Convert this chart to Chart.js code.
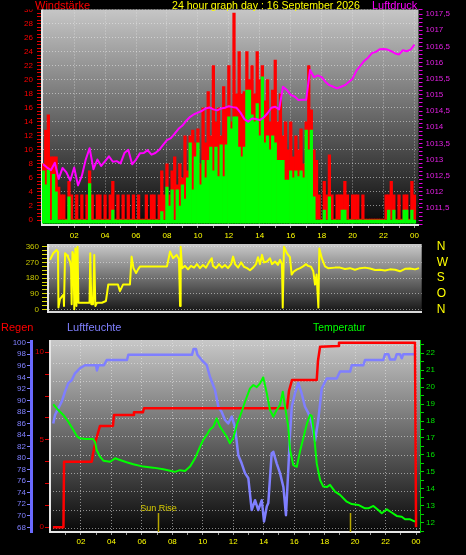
<!DOCTYPE html>
<html><head><meta charset="utf-8">
<script src="https://cdn.jsdelivr.net/npm/chart.js@4"></script>
<style>
html,body{margin:0;padding:0;background:#000;width:466px;height:555px;overflow:hidden;}
canvas{position:absolute;left:0;}
.t{position:absolute;font-family:"Liberation Sans",Arial,sans-serif;font-size:11px;line-height:11px;white-space:nowrap;}
</style></head><body>
<canvas id="c1" width="466" height="244" style="top:0px"></canvas>
<canvas id="c2" width="466" height="84" style="top:236px"></canvas>
<canvas id="c3" width="466" height="235" style="top:320px"></canvas>
<div class="t" style="left:35px;top:0px;color:#ff0000">Windstärke</div>
<div class="t" style="left:172px;top:0px;color:#ffff00;font-size:10.6px">24 hour graph day : 16 September 2026</div>
<div class="t" style="left:372px;top:0px;color:#ff00ff">Luftdruck</div>
<div class="t" style="left:1px;top:322px;color:#ff0000">Regen</div>
<div class="t" style="left:67px;top:322px;color:#8080ff">Luftfeuchte</div>
<div class="t" style="left:313px;top:322px;color:#00ff00;font-size:10.4px">Temperatur</div>
<script>
// ===== top panel: wind (10-minute values) and pressure (15-minute values)
const WIND_STEP_H = 1 / 6;
const windGust = [
  8, 12.8, 15, 9, 9, 9, 4.7, 3.6, 3.6, 0,
  5.5, 3.6, 0, 3.6, 0, 3.6, 0, 3.6, 7, 3.6,
  0, 3.6, 3.6, 0, 3.6, 0, 3.6, 5.5, 0, 3.6,
  0, 3.6, 0, 3.6, 0, 3.6, 0, 3.6, 0, 0,
  3.6, 0, 3.6, 3.6, 0, 3.6, 7, 3.6, 8, 3.6,
  7, 9, 5, 8, 6, 12, 7, 12, 12.8, 11,
  13, 8, 16, 11, 18.3, 12, 22, 14, 16, 12,
  19, 16, 22, 14, 29.5, 18, 24, 18, 18.3, 24,
  20, 22, 18, 24, 20, 22, 17, 20, 14, 18.5,
  22.8, 14, 18, 12, 14, 10, 14, 9, 12, 10,
  13, 8, 14, 22, 15.7, 10, 8.5, 3.6, 0, 5.5,
  3.6, 9.3, 3.6, 0, 3.6, 3.6, 3.6, 5.5, 3.6, 0,
  3.6, 3.6, 3.6, 0, 3.6, 0, 0, 0, 0, 0,
  0, 0, 0, 3.6, 3.6, 5.5, 3.6, 0, 3.6, 0,
  3.6, 3.6, 0, 5.5, 3.6
];
const windAvg = [
  7, 5, 7.1, 0, 6.5, 4, 0, 0, 0, 0,
  3.3, 0, 0, 0, 0, 0, 0, 0, 5.2, 0,
  0, 0, 0, 0, 0, 0, 0, 1.4, 0, 0,
  0, 0, 0, 0, 0, 0, 0, 0, 0, 0,
  0, 0, 0, 0, 0, 0, 1.2, 0, 4.7, 2,
  4.3, 0, 4.3, 2, 5, 3, 6, 11, 4.3, 9,
  11, 5, 8.5, 6, 8.5, 10.4, 7, 10.4, 6.2, 10.7,
  6.2, 10.7, 14.7, 13, 14.7, 14.7, 10.4, 9, 10.4, 18.5,
  18.5, 15, 14, 16.6, 12, 20.4, 11, 12, 10, 12,
  11, 8.5, 8.5, 8.5, 5.7, 5.7, 7, 6, 7, 6.2,
  7, 6, 12.8, 10, 12.8, 3.3, 0, 0, 0, 1.4,
  0, 3.3, 0, 0, 0, 0, 1.4, 1.4, 0, 0,
  0, 0, 0, 0, 0, 0, 0, 0, 0, 0,
  0, 0, 0, 0, 1.4, 0, 1.4, 0, 0, 0,
  1.4, 1.4, 0, 1.4, 0
];
const PRESS_STEP_H = 0.25;
const pressure = [
  1012.85, 1012.75, 1012.67, 1012.9, 1012.4, 1012.74, 1012.6, 1012.35, 1012.75, 1012.2,
  1012.5, 1013.0, 1013.35, 1012.7, 1013.0, 1012.8, 1012.95, 1013.1, 1012.93, 1012.95,
  1012.88, 1013.2, 1013.3, 1012.85, 1013.0, 1013.19, 1013.2, 1013.29, 1013.15, 1013.2,
  1013.3, 1013.45, 1013.6, 1013.66, 1013.8, 1013.95, 1014.05, 1014.2, 1014.32, 1014.4,
  1014.45, 1014.5, 1014.58, 1014.61, 1014.55, 1014.52, 1014.58, 1014.6, 1014.65, 1014.62,
  1014.6, 1014.45, 1014.25, 1014.17, 1014.27, 1014.25, 1014.22, 1014.3, 1014.43, 1014.6,
  1014.63, 1014.55, 1015.25, 1015.15, 1015.0, 1014.95, 1014.84, 1014.85, 1014.85, 1015.77,
  1015.55, 1015.6, 1015.55, 1015.4, 1015.3, 1015.25, 1015.2, 1015.25, 1015.3, 1015.4,
  1015.5, 1015.75, 1015.9, 1016.05, 1016.15, 1016.29, 1016.33, 1016.41, 1016.42, 1016.4,
  1016.35, 1016.28, 1016.25, 1016.38, 1016.35, 1016.4, 1016.55
];
const windTicks = [0, 2, 4, 6, 8, 10, 12, 14, 16, 18, 20, 22, 24, 26, 28, 30];
const pressTicks = [1011.5, 1012, 1012.5, 1013, 1013.5, 1014, 1014.5, 1015, 1015.5, 1016, 1016.5, 1017, 1017.5];
const pressLabels = ['1011,5', '1012', '1012,5', '1013', '1013,5', '1014', '1014,5', '1015', '1015,5', '1016', '1016,5', '1017', '1017,5'];
const hourTicks = [2, 4, 6, 8, 10, 12, 14, 16, 18, 20, 22, 24];
const hourLabels = ['02', '04', '06', '08', '10', '12', '14', '16', '18', '20', '22', '00'];

// ===== middle panel: wind direction
const dirHours = [0.00,0.21,0.43,0.52,0.55,0.65,0.78,0.88,0.91,0.98,
  1.11,1.17,1.30,1.37,1.41,1.46,1.53,1.58,1.65,1.72,
  1.79,1.85,1.95,2.47,2.57,2.62,2.69,2.80,2.88,2.95,
  3.06,3.38,3.64,3.79,4.23,4.42,4.55,4.75,5.20,5.31,
  5.43,5.60,5.73,5.86,7.61,7.81,8.00,8.24,8.39,8.46,
  8.50,8.59,8.78,8.98,9.17,9.37,9.56,9.76,9.95,10.15,
  10.34,10.52,10.60,10.80,10.99,11.19,11.38,11.58,11.78,11.91,
  12.04,12.24,12.43,12.62,12.82,13.01,13.21,13.40,13.53,13.66,
  13.79,13.92,14.12,14.31,14.44,14.64,14.83,14.96,15.09,15.14,
  15.22,15.42,15.61,15.72,15.87,16.07,16.27,16.46,16.66,16.79,
  16.98,17.13,17.24,17.34,17.46,17.52,17.68,17.89,18.09,18.54,
  18.87,19.19,19.52,19.84,20.17,20.49,20.82,21.15,21.47,21.80,
  22.12,22.45,22.77,23.10,23.42,23.75,24.01];
const dirDegrees = [285,322,341,330,11,60,75,86,20,322,
  310,300,275,240,30,330,310,2,350,20,
  360,39,39,39,39,322,30,30,313,20,
  39,39,49,143,143,143,105,143,143,303,
  237,209,230,247,247,332,294,313,290,20,
  360,237,250,230,250,240,260,237,255,240,
  270,294,250,237,260,240,255,237,260,303,
  260,240,270,245,237,225,240,260,300,260,
  313,270,275,294,260,275,256,285,260,11,
  360,322,300,200,219,230,237,247,260,250,
  245,219,143,200,11,350,294,247,237,240,
  240,232,237,228,237,240,235,226,228,224,
  230,228,219,233,235,230,237];
const dirTicks = [0, 90, 180, 270, 360];
const compassLabels = ['N', 'O', 'S', 'W', 'N'];

// ===== bottom panel: rain, humidity, temperature
const rainHours = [0.16,0.85,0.89,2.71,2.79,2.99,3.25,4.10,4.17,5.42,5.48,6.07,6.14,15.53,15.66,15.86,17.48,17.56,17.70,18.88,18.94,23.93,24.0];
const rainMm = [0,0,3.75,3.75,4.2,5.0,5.79,5.79,6.42,6.42,6.57,6.57,6.8,6.8,7.8,8.42,8.42,9.5,10.32,10.36,10.55,10.55,0];
const humHours = [0.18,0.30,0.51,0.74,0.95,1.17,1.39,1.61,1.94,2.27,
  2.99,3.05,3.15,3.51,3.69,5.02,5.11,9.29,9.39,9.55,
  9.65,9.93,10.26,10.47,10.80,11.02,11.24,11.46,11.67,11.90,
  12.11,12.33,12.55,12.77,12.99,13.21,13.43,13.64,13.87,14.02,
  14.20,14.30,14.52,14.63,14.85,15.07,15.29,15.46,15.61,15.73,
  15.84,16.05,16.27,16.49,16.71,16.93,17.15,17.37,17.58,17.81,
  18.14,18.79,19.01,19.67,19.78,20.54,20.65,21.85,21.96,22.18,
  22.29,22.62,22.73,22.95,23.06,23.16,23.93];
const humPct = [86.0,87.5,88.6,89.8,91.5,93.0,93.5,94.7,95.6,96.1,
  96.1,95.2,96.1,96.1,97.0,97.0,97.9,97.9,98.9,98.9,
  97.9,97.0,96.1,94.1,91.8,88.9,88.0,86.6,86.0,87.2,
  85.4,80.5,79.1,77.4,76.5,71.0,72.7,71.0,72.7,69.0,
  71.6,72.2,80.8,81.1,79.1,77.4,75.0,70.1,77.9,84.3,
  88.9,91.2,93.0,91.2,88.9,87.8,86.0,83.0,86.6,92.1,
  93.8,93.8,95.0,95.0,96.1,96.1,97.0,97.0,98.0,98.0,
  97.1,97.1,98.0,98.0,97.3,98.0,98.0];
const tempHours = [0.18,0.51,0.84,1.17,1.50,1.74,1.94,2.27,2.79,2.92,
  3.03,3.25,3.47,3.91,4.24,4.56,5.00,5.44,6.09,6.75,
  7.41,7.85,8.17,8.50,8.83,9.16,9.49,9.82,10.03,10.26,
  10.47,10.69,10.91,11.13,11.35,11.57,11.78,12.00,12.23,12.55,
  12.77,13.10,13.32,13.54,13.76,13.97,14.20,14.41,14.63,14.85,
  15.07,15.25,15.40,15.61,15.73,15.94,16.17,16.38,16.60,16.82,
  17.04,17.15,17.26,17.48,17.70,17.91,18.14,18.35,18.68,19.01,
  19.45,19.78,20.21,20.65,20.87,21.20,21.52,21.75,22.08,22.40,
  22.73,23.06,23.28,23.61,23.93];
const tempC = [18.99,18.65,18.36,17.96,17.47,17.1,16.98,16.94,16.94,16.78,
  16.29,15.9,15.66,15.6,15.8,15.7,15.57,15.45,15.31,15.25,
  15.15,15.07,15.0,15.1,15.05,15.31,15.8,16.49,16.88,17.18,
  17.5,17.67,18.16,17.67,17.37,17.08,16.69,17.0,17.77,18.55,
  19.14,19.93,20.13,20.0,20.23,20.58,19.64,18.65,18.26,18.65,
  18.95,19.73,18.85,17.67,16.29,15.4,15.3,16.2,17.0,17.8,
  18.36,18.3,17.6,15.5,14.52,14.13,14.1,14.23,13.83,13.64,
  13.24,13.1,13.05,12.85,12.85,12.99,12.75,12.56,12.79,12.6,
  12.4,12.35,12.2,12.2,12.06];
const humTicks = [68,70,72,74,76,78,80,82,84,86,88,90,92,94,96,98,100];
const rainTicks = [0, 5, 10];
const tempTicks = [12,13,14,15,16,17,18,19,20,21,22];
const sunHours = [7.04, 19.67];
const sunLabels = ['Sun Rise', ''];

// ===== helpers
const FONT = '"Liberation Sans", Arial, sans-serif';
const GRID = 'rgba(235,235,235,0.55)';
Chart.defaults.font.family = FONT;
Chart.defaults.animation = false;

function range(a, b, step) { const out = []; for (let k = 0; a + k * step <= b + 1e-9; k++) out.push(Math.round((a + k * step) * 1000) / 1000); return out; }
const near = (a, b) => Math.abs(a - b) < 1e-6;
const isIn = vals => v => vals.some(x => near(x, v));
function fixTicks(vals) { return s => { s.ticks = vals.map(v => ({ value: v })); }; }
function labelFrom(vals, labels) { return v => { const i = vals.findIndex(x => near(x, v)); return i >= 0 ? labels[i] : ''; }; }
const fixWidth = w => s => { s.width = w; };
const fixHeight = h => s => { s.height = h; };
const majorGrid = vals => c => (c.tick && isIn(vals)(c.tick.value)) ? GRID : 'transparent';
const tickFont = { size: 8, family: FONT };
const pts = (xs, ys) => ys.map((v, i) => ({ x: xs[i], y: v }));
const stepPts = (step, ys) => ys.map((v, i) => ({ x: i * step, y: v }));

// plot background gradient + clip of the left axis labels above the plot top
const panelPlugin = {
  id: 'panel',
  beforeDraw(chart, args, opts) {
    const { ctx, chartArea: a } = chart;
    const g = ctx.createLinearGradient(0, a.top, 0, a.bottom);
    g.addColorStop(0, opts.top); g.addColorStop(1, opts.bottom);
    ctx.save(); ctx.fillStyle = g; ctx.fillRect(a.left, a.top, a.right - a.left, a.bottom - a.top); ctx.restore();
    ctx.save(); ctx.beginPath();
    ctx.rect(0, a.top, a.right, chart.height - a.top);
    ctx.rect(a.right, 0, chart.width - a.right, chart.height);
    ctx.clip();
  },
  afterDraw(chart) { chart.ctx.restore(); }
};
const sunPlugin = {
  id: 'sun',
  afterDatasetsDraw(chart) {
    const { ctx, chartArea: a, scales } = chart;
    ctx.save();
    sunHours.forEach((h, i) => {
      const px = Math.round(scales.x.getPixelForValue(h)) + 0.5;
      ctx.strokeStyle = '#b8a800'; ctx.lineWidth = 1.5;
      ctx.beginPath(); ctx.moveTo(px, a.bottom - 19); ctx.lineTo(px, a.bottom); ctx.stroke();
      if (sunLabels[i]) {
        ctx.fillStyle = '#d8cc00'; ctx.font = '9px ' + FONT; ctx.textAlign = 'center'; ctx.textBaseline = 'alphabetic';
        ctx.fillText(sunLabels[i], px, a.bottom - 21);
      }
    });
    ctx.restore();
  }
};
const baseOpts = { responsive: false, devicePixelRatio: 1, animation: false, events: [] };
const noPlug = { legend: { display: false }, tooltip: { enabled: false } };
function hourAxis(min, max, h, pad) {
  return {
    type: 'linear', min, max, offset: false,
    afterBuildTicks: fixTicks(range(1, 24, 1)), afterFit: fixHeight(h),
    ticks: { callback: labelFrom(hourTicks, hourLabels), color: '#ffff00', font: tickFont, padding: pad, autoSkip: false, maxRotation: 0 },
    grid: { offset: false, color: majorGrid(hourTicks), tickColor: '#9a9a9a', tickLength: 3, lineWidth: 1 },
    border: { color: '#e6e6e6', width: 2, dash: [1, 2] }
  };
}

// ===== top chart
new Chart(document.getElementById('c1'), {
  type: 'bar',
  data: { datasets: [
    { type: 'bar', label: 'Böen', data: stepPts(WIND_STEP_H, windGust), backgroundColor: '#ff0000', barThickness: 2.6, minBarLength: 2, grouped: false, order: 3, yAxisID: 'yW' },
    { type: 'bar', label: 'Wind', data: stepPts(WIND_STEP_H, windAvg), backgroundColor: '#00ff00', barThickness: 2.6, base: -0.45, grouped: false, order: 2, yAxisID: 'yW' },
    { type: 'line', label: 'Luftdruck', data: stepPts(PRESS_STEP_H, pressure), borderColor: '#ff00ff', borderWidth: 2, pointRadius: 0, borderJoinStyle: 'round', order: 1, yAxisID: 'yP' }
  ] },
  options: { ...baseOpts,
    layout: { padding: { top: 9.5 } },
    plugins: { ...noPlug, panel: { top: '#c6c6c6', bottom: '#080808' } },
    scales: {
      x: hourAxis(-0.078, 24.26, 19, 3),
      yW: { type: 'linear', position: 'left', min: -0.71, max: 30,
        afterBuildTicks: fixTicks(range(0, 30, 0.5)), afterFit: fixWidth(42),
        ticks: { callback: labelFrom(windTicks, windTicks.map(String)), color: '#ff0000', font: tickFont, padding: 4, autoSkip: false },
        grid: { color: majorGrid(windTicks), tickColor: '#e00000', tickLength: 5 },
        border: { color: '#e6e6e6', width: 2, dash: [1, 2] } },
      yP: { type: 'linear', position: 'right', min: 1010.974, max: 1017.64,
        afterBuildTicks: fixTicks(range(1011, 1017.625, 0.125)), afterFit: fixWidth(47.5),
        ticks: { callback: labelFrom(pressTicks, pressLabels), color: '#e020e0', font: tickFont, padding: 3, autoSkip: false },
        grid: { drawOnChartArea: false, tickColor: '#e000e0', tickLength: 4 },
        border: { display: false } }
    } },
  plugins: [panelPlugin]
});

// ===== middle chart
new Chart(document.getElementById('c2'), {
  type: 'line',
  data: { datasets: [
    { label: 'Windrichtung', data: pts(dirHours, dirDegrees), borderColor: '#ffff00', borderWidth: 2, pointRadius: 0, borderJoinStyle: 'round', yAxisID: 'yD' }
  ] },
  options: { ...baseOpts,
    layout: { padding: { top: 8 } },
    plugins: { ...noPlug, panel: { top: '#cacaca', bottom: '#151515' } },
    scales: {
      x: { type: 'linear', min: -0.13, max: 24.18, afterFit: fixHeight(7), ticks: { display: false }, grid: { display: false }, border: { color: '#d8d8d8', width: 2 } },
      yD: { type: 'linear', position: 'left', min: -15.3, max: 375.3,
        afterBuildTicks: fixTicks(range(0, 360, 22.5)), afterFit: fixWidth(48),
        ticks: { callback: labelFrom(dirTicks, dirTicks.map(String)), color: '#c8c800', font: tickFont, padding: 3, autoSkip: false },
        grid: { color: majorGrid(dirTicks), tickColor: '#d8d800', tickLength: 6 },
        border: { color: '#e6e6e6', width: 2, dash: [1, 2] } },
      yC: { type: 'linear', position: 'right', min: -15.3, max: 375.3,
        afterBuildTicks: fixTicks(dirTicks), afterFit: fixWidth(44.3),
        ticks: { callback: labelFrom(dirTicks, compassLabels), color: '#ffff00', font: { size: 12, family: FONT }, padding: 0, autoSkip: false },
        grid: { drawOnChartArea: false, drawTicks: true, tickLength: 15, tickColor: 'rgba(0,0,0,0)' },
        border: { display: false } }
    } },
  plugins: [panelPlugin]
});

// ===== bottom chart
new Chart(document.getElementById('c3'), {
  type: 'line',
  data: { datasets: [
    { label: 'Luftfeuchte', data: pts(humHours, humPct), borderColor: '#7f7fff', borderWidth: 2.5, pointRadius: 0, borderJoinStyle: 'round', yAxisID: 'yH', order: 3 },
    { label: 'Regen', data: pts(rainHours, rainMm), borderColor: '#ff0000', borderWidth: 2.5, pointRadius: 0, borderJoinStyle: 'round', yAxisID: 'yR', order: 2 },
    { label: 'Temperatur', data: pts(tempHours, tempC), borderColor: '#00ff00', borderWidth: 2, pointRadius: 0, borderJoinStyle: 'round', yAxisID: 'yT', order: 1 }
  ] },
  options: { ...baseOpts,
    layout: { padding: { top: 20 } },
    plugins: { ...noPlug, panel: { top: '#c8c8c8', bottom: '#080808' } },
    scales: {
      x: hourAxis(-0.033, 24.26, 23, 2),
      yH: { type: 'linear', position: 'left', weight: 2, min: 67.19, max: 100.47,
        afterBuildTicks: fixTicks(humTicks), afterFit: fixWidth(31),
        ticks: { color: '#8080ff', font: tickFont, padding: 1, autoSkip: false },
        grid: { drawOnChartArea: false, tickColor: '#8080ff', tickLength: 4 },
        border: { color: '#6a6aff', width: 3 } },
      yR: { type: 'linear', position: 'left', weight: 1, min: -0.27, max: 10.70,
        afterBuildTicks: fixTicks(range(0, 10, 1.25)), afterFit: fixWidth(19),
        ticks: { callback: labelFrom(rainTicks, rainTicks.map(String)), color: '#e00000', font: tickFont, padding: 1, autoSkip: false },
        grid: { drawOnChartArea: false, tickColor: '#e00000', tickLength: 5 },
        border: { color: '#e6e6e6', width: 2 } },
      yT: { type: 'linear', position: 'right', weight: 1, min: 11.45, max: 22.785,
        afterBuildTicks: fixTicks(range(11.5, 22.5, 0.5)), afterFit: fixWidth(46),
        ticks: { callback: labelFrom(tempTicks, tempTicks.map(String)), color: '#00e000', font: tickFont, padding: 2, autoSkip: false },
        grid: { drawOnChartArea: false, tickColor: '#00d000', tickLength: 4 },
        border: { color: '#00c000', width: 1 } },
      yG: { type: 'linear', position: 'right', weight: 0, min: -0.2, max: 10.28,
        afterBuildTicks: fixTicks(range(0, 10, 1)), afterFit: fixWidth(0),
        ticks: { display: false },
        grid: { color: GRID, drawTicks: false },
        border: { display: false, dash: [1, 2] } }
    } },
  plugins: [panelPlugin, sunPlugin]
});
</script>
</body></html>
